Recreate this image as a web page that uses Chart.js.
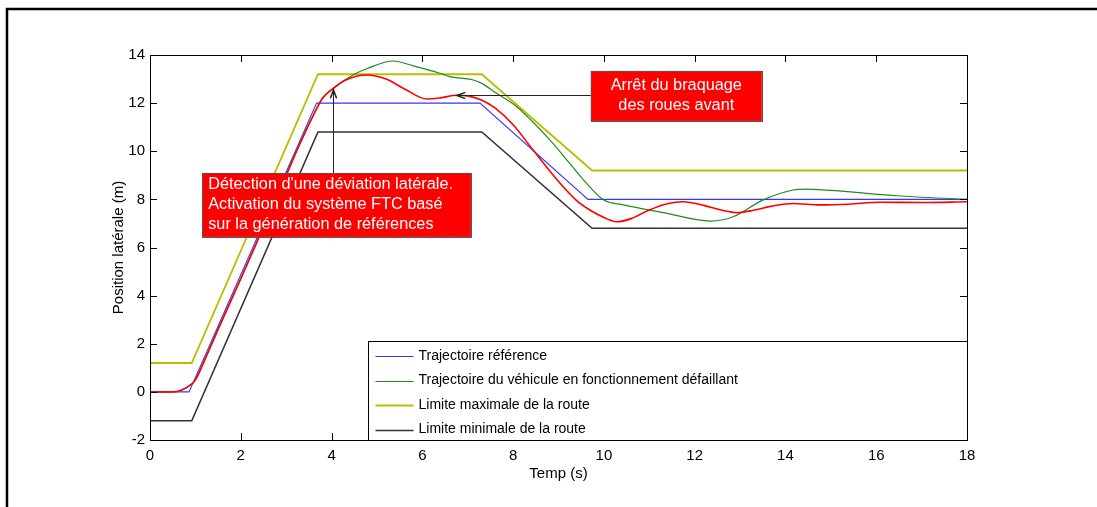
<!DOCTYPE html>
<html><head><meta charset="utf-8">
<script src="https://cdn.jsdelivr.net/npm/chart.js@4.4.1/dist/chart.umd.min.js"></script>
<style>html,body{margin:0;padding:0;background:#fff;}canvas{display:block;}</style>
</head><body>
<canvas id="c" width="1097" height="507"></canvas>
<script>
// ---- data ----
const xTickValues = [0, 2, 4, 6, 8, 10, 12, 14, 16, 18];
const yTickValues = [-2, 0, 2, 4, 6, 8, 10, 12, 14];

const refT = [0, 0.86, 3.67, 7.27, 9.65, 18];
const refY = [0, 0, 12, 12, 8, 8];

const maxT = [0, 0.92, 3.70, 7.31, 9.74, 18];
const maxY = [1.2, 1.2, 13.2, 13.2, 9.2, 9.2];

const minT = [0, 0.92, 3.70, 7.31, 9.74, 18];
const minY = [-1.2, -1.2, 10.8, 10.8, 6.8, 6.8];

// vehicle with FTC (red)
const ftcT = [0, 0.5, 0.7, 0.9, 1.0, 1.2, 1.5, 2.0, 2.5, 3.0, 3.3, 3.6, 3.8, 4.03, 4.3, 4.77, 5.2, 5.6, 6.1, 6.4, 6.76, 7.0, 7.3, 7.6, 8.0, 8.44, 9.03, 9.4, 9.69, 10.0, 10.28, 10.6, 11.0, 11.4, 11.75, 12.2, 12.6, 12.93, 13.3, 13.7, 14.17, 14.76, 15.4, 16.08, 17.0, 18];
const ftcY = [0, 0, 0.08, 0.3, 0.5, 1.3, 2.6, 4.7, 6.85, 9.0, 10.3, 11.5, 12.2, 12.6, 12.95, 13.17, 13.0, 12.6, 12.17, 12.22, 12.33, 12.3, 12.13, 11.8, 11.1, 10.05, 8.68, 7.95, 7.56, 7.25, 7.07, 7.2, 7.56, 7.82, 7.9, 7.75, 7.55, 7.45, 7.55, 7.72, 7.83, 7.77, 7.8, 7.88, 7.87, 7.9];

// faulty vehicle (green)
const faultT = [0, 0.5, 0.7, 0.9, 1.0, 1.2, 1.5, 2.0, 2.5, 3.0, 3.3, 3.6, 3.8, 4.03, 4.47, 4.8, 5.36, 5.8, 6.39, 6.61, 7.12, 7.31, 7.6, 8.08, 8.81, 9.2, 9.55, 9.99, 10.43, 11.31, 12.34, 12.85, 13.51, 14.17, 14.46, 15.35, 16.45, 18];
const faultY = [0, 0, 0.08, 0.3, 0.5, 1.3, 2.6, 4.7, 6.85, 9.0, 10.3, 11.5, 12.2, 12.6, 13.17, 13.45, 13.75, 13.55, 13.24, 13.1, 12.96, 12.82, 12.45, 11.85, 10.47, 9.6, 8.81, 7.98, 7.77, 7.45, 7.1, 7.28, 7.98, 8.39, 8.43, 8.32, 8.15, 8.0];

const legendLabels = ['Trajectoire référence', 'Trajectoire du véhicule en fonctionnement défaillant', 'Limite maximale de la route', 'Limite minimale de la route'];
const note1Lines = ["Détection d'une déviation latérale.", 'Activation du système FTC basé', 'sur la génération de références'];
const note2Lines = ['Arrêt du braquage', 'des roues avant'];
const note1Tip = [4.03, 12.55];
const note2Tip = [6.76, 12.33];
const note1Box = [1.15, 9.1, 7.07, 6.44];   // t1, v1, t2, v2
const note2Box = [9.71, 13.34, 13.48, 11.26];
const legendCorner = [4.81, 2.11];

const pts = (t, v) => t.map((x, i) => ({x, y: v[i]}));
const FONT = '"Liberation Sans", Arial, sans-serif';

const decor = {
  id: 'decor',
  afterDatasetsDraw(chart) {
    const {ctx, chartArea: a, scales: {x, y}} = chart;
    ctx.save();
    // inward ticks on four sides
    ctx.strokeStyle = '#000'; ctx.lineWidth = 1;
    ctx.beginPath();
    x.ticks.forEach(t => {
      const p = Math.round(x.getPixelForValue(t.value)) + 0.5;
      ctx.moveTo(p, a.bottom); ctx.lineTo(p, a.bottom - 7);
      ctx.moveTo(p, a.top); ctx.lineTo(p, a.top + 7);
    });
    y.ticks.forEach(t => {
      const p = Math.round(y.getPixelForValue(t.value)) + 0.5;
      ctx.moveTo(a.left, p); ctx.lineTo(a.left + 7, p);
      ctx.moveTo(a.right, p); ctx.lineTo(a.right - 7, p);
    });
    ctx.stroke();

    // annotation arrows
    const arrow = (x1, y1, x2, y2) => {
      ctx.strokeStyle = '#222'; ctx.lineWidth = 1;
      ctx.beginPath(); ctx.moveTo(x1, y1); ctx.lineTo(x2, y2); ctx.stroke();
      const ang = Math.atan2(y2 - y1, x2 - x1), L = 9, s = 0.35;
      ctx.beginPath();
      ctx.moveTo(x2 - L * Math.cos(ang - s), y2 - L * Math.sin(ang - s));
      ctx.lineTo(x2, y2);
      ctx.lineTo(x2 - L * Math.cos(ang + s), y2 - L * Math.sin(ang + s));
      ctx.lineWidth = 1.5; ctx.stroke();
    };
    const bx = b => ({l: x.getPixelForValue(b[0]), t: y.getPixelForValue(b[1]), r: x.getPixelForValue(b[2]), b: y.getPixelForValue(b[3])});
    const b1 = bx(note1Box), b2 = bx(note2Box);
    const tip1x = Math.round(x.getPixelForValue(note1Tip[0])) + 0.5, tip1y = y.getPixelForValue(note1Tip[1]);
    arrow(tip1x, b1.t, tip1x, tip1y);
    const tip2y = Math.round(y.getPixelForValue(note2Tip[1])) + 0.5, tip2x = x.getPixelForValue(note2Tip[0]);
    arrow(b2.l, tip2y, tip2x, tip2y);

    // annotation boxes
    const box = (b, lines, align) => {
      ctx.fillStyle = '#ff0000';
      ctx.fillRect(b.l, b.t, b.r - b.l, b.b - b.t);
      ctx.strokeStyle = '#555'; ctx.lineWidth = 1;
      ctx.strokeRect(Math.round(b.l) + 0.5, Math.round(b.t) + 0.5, Math.round(b.r - b.l), Math.round(b.b - b.t));
      ctx.fillStyle = '#fff'; ctx.font = '16.3px ' + FONT; ctx.textBaseline = 'middle';
      const lh = 20, h = lines.length * lh, y0 = (b.t + b.b) / 2 - h / 2 + lh / 2;
      lines.forEach((s, i) => {
        if (align === 'left') { ctx.textAlign = 'left'; ctx.fillText(s, b.l + 6, y0 + i * lh); }
        else { ctx.textAlign = 'center'; ctx.fillText(s, (b.l + b.r) / 2, y0 + i * lh); }
      });
    };
    box(b1, note1Lines, 'left');
    box(b2, note2Lines, 'center');

    // legend (series in legend order)
    const legendSets = [2, 1, 3, 4].map(i => chart.data.datasets[i]);
    const lgL = Math.round(x.getPixelForValue(legendCorner[0])) + 0.5, lgT = Math.round(y.getPixelForValue(legendCorner[1])) + 0.5;
    ctx.fillStyle = '#fff';
    ctx.fillRect(lgL, lgT, a.right - lgL, a.bottom - lgT);
    ctx.strokeStyle = '#000'; ctx.lineWidth = 1;
    ctx.strokeRect(lgL, lgT, Math.round(a.right) + 0.5 - lgL, Math.round(a.bottom) + 0.5 - lgT);
    ctx.font = '14px ' + FONT; ctx.textAlign = 'left'; ctx.textBaseline = 'middle';
    legendSets.forEach((ds, i) => {
      const yy = lgT + 14.5 + i * 24.5;
      ctx.strokeStyle = ds.borderColor; ctx.lineWidth = ds.borderWidth;
      ctx.beginPath(); ctx.moveTo(lgL + 7, Math.round(yy) + 0.5); ctx.lineTo(lgL + 45, Math.round(yy) + 0.5); ctx.stroke();
      ctx.fillStyle = '#000';
      ctx.fillText(legendLabels[i], lgL + 50, yy);
    });

    // plot frame
    ctx.strokeStyle = '#000'; ctx.lineWidth = 1;
    ctx.strokeRect(Math.round(a.left) + 0.5, Math.round(a.top) + 0.5, Math.round(a.right - a.left), Math.round(a.bottom - a.top));
    ctx.restore();
  },
  afterDraw(chart) {
    const ctx = chart.ctx;
    ctx.save();
    ctx.strokeStyle = '#000'; ctx.lineWidth = 2.5;
    ctx.beginPath();
    ctx.moveTo(7, 520); ctx.lineTo(7, 9); ctx.lineTo(1110, 9);
    ctx.stroke();
    ctx.restore();
  }
};

new Chart(document.getElementById('c'), {
  type: 'line',
  data: {
    datasets: [
      {label: 'FTC', data: pts(ftcT, ftcY), borderColor: '#ff0000', borderWidth: 1.6, cubicInterpolationMode: 'monotone'},
      {label: legendLabels[1], data: pts(faultT, faultY), borderColor: '#1e8c1e', borderWidth: 1.2, cubicInterpolationMode: 'monotone'},
      {label: legendLabels[0], data: pts(refT, refY), borderColor: '#3535ff', borderWidth: 1.1, tension: 0},
      {label: legendLabels[2], data: pts(maxT, maxY), borderColor: '#bdbd00', borderWidth: 1.8, tension: 0},
      {label: legendLabels[3], data: pts(minT, minY), borderColor: '#333333', borderWidth: 1.6, tension: 0}
    ]
  },
  options: {
    responsive: false, animation: false,
    layout: {padding: {left: 106, right: 130, top: 55, bottom: 20}},
    elements: {point: {radius: 0}, line: {fill: false}},
    plugins: {legend: {display: false}, tooltip: {enabled: false}},
    scales: {
      x: {
        type: 'linear', min: 0, max: 18,
        afterBuildTicks: s => { s.ticks = xTickValues.map(v => ({value: v})); },
        afterFit: s => { s.height = 47; },
        grid: {display: false, drawTicks: false},
        border: {display: false},
        ticks: {autoSkip: false, maxRotation: 0, padding: 7, color: '#000', font: {family: FONT, size: 15}},
        title: {display: true, text: 'Temp (s)', color: '#000', font: {family: FONT, size: 15}, padding: {top: 0, bottom: 4}}
      },
      y: {
        type: 'linear', min: -2, max: 14,
        afterBuildTicks: s => { s.ticks = yTickValues.map(v => ({value: v})); },
        afterFit: s => { s.width = 44; },
        grid: {display: false, drawTicks: false},
        border: {display: false},
        ticks: {autoSkip: false, padding: 5, color: '#000', font: {family: FONT, size: 15}},
        title: {display: true, text: 'Position latérale (m)', color: '#000', font: {family: FONT, size: 15}, padding: {top: 4, bottom: 0}}
      }
    }
  },
  plugins: [decor]
});
</script>
</body></html>
